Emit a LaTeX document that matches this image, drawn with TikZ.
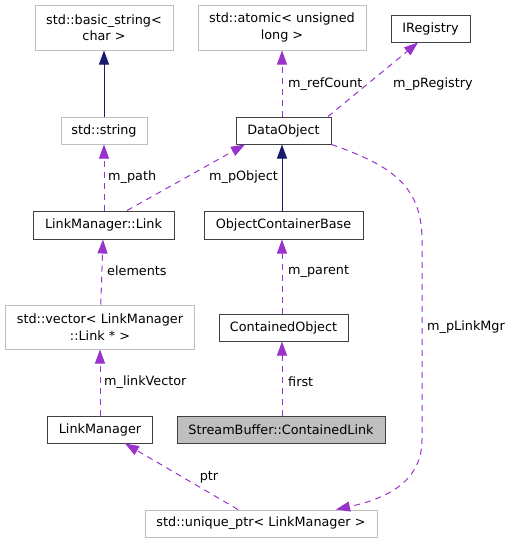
\documentclass[tikz,border=0pt]{standalone}
\usepackage{fontspec}
\setmainfont{DejaVu Sans}
\usetikzlibrary{arrows.meta}
\definecolor{edgepurple}{HTML}{9A32CD}
\definecolor{edgenavy}{HTML}{191970}
\definecolor{boxgray}{HTML}{BFBFBF}
\tikzset{
	cls/.style={draw=black!75, line width=1pt, inner sep=0pt, align=center, font=\fontsize{12.8}{16.5}\selectfont},
	ext/.style={cls, draw=boxgray},
	self/.style={cls, fill=boxgray},
	inh/.style={edgenavy, line width=1pt, -{Triangle[length=14pt,width=10pt]}},
	use/.style={edgepurple, line width=1pt, dash pattern=on 6pt off 5pt, -{Triangle[length=14pt,width=10pt]}},
	lbl/.style={font=\fontsize{12.8}{15}\selectfont, inner sep=0pt}
}

\begin{document}
\begin{tikzpicture}[x=1pt, y=-1pt]
			%%%%% START %%%%%
			
			\useasboundingbox (0, 0) rectangle (512, 544);
			
			\node[ext, minimum width=138, minimum height=45] (basicString) at (104, 27.5) {std::basic\_string<\\char >};
			\node[ext, minimum width=168, minimum height=45] (atomicLong) at (282, 27.5) {std::atomic< unsigned\\long >};
			\node[cls, minimum width=79, minimum height=27] (iRegistry) at (430.5, 28.5) {IRegistry};
			
			\node[ext, minimum width=86, minimum height=27] (stdString) at (104, 130.5) {std::string};
			\node[cls, minimum width=95, minimum height=27] (dataObject) at (283.5, 130.5) {DataObject};
			
			\node[cls, minimum width=141, minimum height=28] (link) at (103.5, 225) {LinkManager::Link};
			\node[cls, minimum width=159, minimum height=28] (objContBase) at (283.5, 225) {ObjectContainerBase};
			
			\node[ext, minimum width=189, minimum height=44] (linkVector) at (100, 327) {std::vector< LinkManager\\::Link * >};
			\node[cls, minimum width=129, minimum height=27] (containedObj) at (283.5, 327.5) {ContainedObject};
			
			\node[cls, minimum width=105, minimum height=27] (linkManager) at (100, 429.5) {LinkManager};
			\node[self, minimum width=208, minimum height=27] (containedLink) at (281, 429.5) {StreamBuffer::ContainedLink};
			
			\node[ext, minimum width=232, minimum height=27] (uniquePtr) at (261, 523.5) {std::unique\_ptr< LinkManager >};
			
			\coordinate (midAxis) at (282, 0);
			
			% inheritance
			\draw[inh] (stdString) -- (basicString);
			\draw[inh] (midAxis |- objContBase.north) -- (midAxis |- dataObject.south);
			
			% usage
			\draw[use] (midAxis |- dataObject.north) -- (midAxis |- atomicLong.south);
			\node[lbl, anchor=west] (lRefCount) at (288, 84) {m\_refCount};
			\draw[use] ([xshift=44.5]dataObject.north) -- ([xshift=-12.5]iRegistry.south);
			\node[lbl, anchor=west] (lRegistry) at (393, 84) {m\_pRegistry};
			
			\draw[use] (stdString.south |- link.north) -- (stdString.south);
			\node[lbl, anchor=west] (lPath) at (108, 177) {m\_path};
			\draw[use] ([xshift=23.5]link.north) -- ([xshift=-38.5]dataObject.south);
			\node[lbl] (lObject) at (243.5, 177) {m\_pObject};
			
			\draw[use] (linkVector) -- (link);
			\node[lbl, anchor=west] (lElements) at (107, 271) {elements};
			\draw[use] (midAxis |- containedObj.north) -- (midAxis |- objContBase.south);
			\node[lbl, anchor=west] (lParent) at (288, 272) {m\_parent};
			
			\draw[use] (linkManager) -- (linkVector);
			\node[lbl, anchor=west] (lLinkVector) at (104, 382) {m\_linkVector};
			\draw[use] (midAxis |- containedLink.north) -- (midAxis |- containedObj.south);
			\node[lbl, anchor=west] (lFirst) at (288, 382) {first};
			
			\draw[use] ([xshift=-23]uniquePtr.north) -- ([xshift=25]linkManager.south);
			\node[lbl] (lPtr) at (209, 477) {ptr};
			
			\draw[use] (dataObject.south east) .. controls (390, 165) and (422, 185) .. (422, 240) -- (422, 440) .. controls (422, 485) and (380, 500) .. ([xshift=75]uniquePtr.north);
			\node[lbl, anchor=west] (lLinkMgr) at (427, 327) {m\_pLinkMgr};
			
			%%%%% END %%%%%
\end{tikzpicture}
\end{document}
